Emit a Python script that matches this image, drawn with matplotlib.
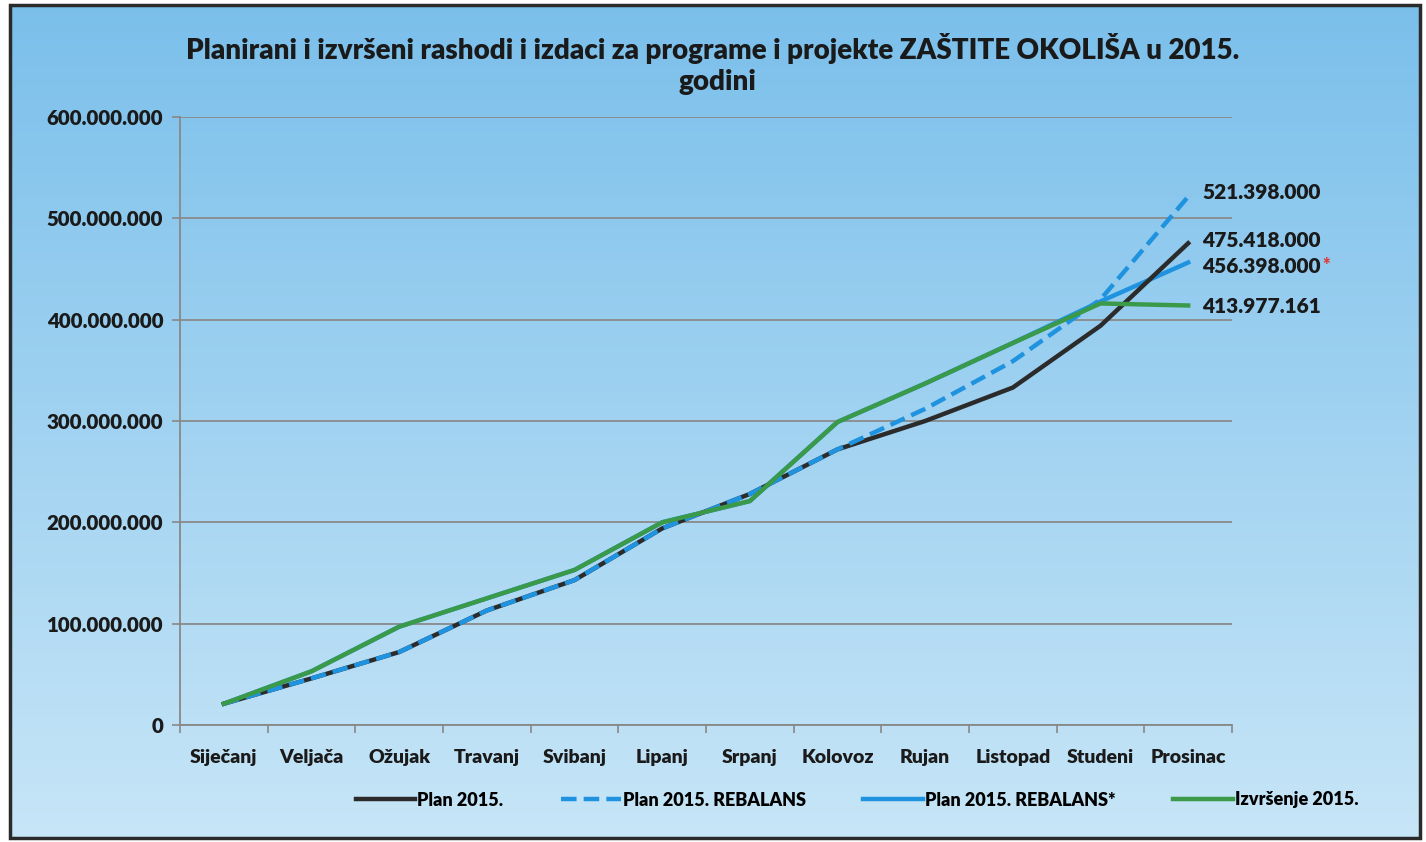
import matplotlib
matplotlib.use("Agg")
import matplotlib.pyplot as plt
import numpy as np
from matplotlib.patches import Rectangle
from matplotlib.ticker import FuncFormatter

# data (kune)
months = ['Siječanj', 'Veljača', 'Ožujak', 'Travanj', 'Svibanj', 'Lipanj',
          'Srpanj', 'Kolovoz', 'Rujan', 'Listopad', 'Studeni', 'Prosinac']
plan = [21e6, 46e6, 72e6, 113e6, 143e6, 194e6, 228e6, 272e6, 300e6, 333e6, 394e6, 475418000]
rebalans = [21e6, 46e6, 72e6, 113e6, 143e6, 194e6, 228e6, 272e6, 312e6, 359e6, 420e6, 521398000]
izvrsenje = [21e6, 53e6, 97e6, 125e6, 153e6, 200e6, 221e6, 299e6, 337e6, 377e6, 416e6, 413977161]
rebalans_star = [21e6, 53e6, 97e6, 125e6, 153e6, 200e6, 221e6, 299e6, 337e6, 377e6, 418e6, 456398000]
end_labels = ['475.418.000', '521.398.000', '456.398.000', '413.977.161']

WT = 'heavy'
plt.rcParams['font.family'] = ['Lato', 'DejaVu Sans']
plt.rcParams['font.weight'] = WT

W, H = 1426, 842
fig = plt.figure(figsize=(W / 100, H / 100), dpi=100)
fig.patch.set_facecolor('white')

# gradient background inside the frame
bg = fig.add_axes([0, 0, 1, 1], zorder=-10)
bg.set_xlim(0, W)
bg.set_ylim(H, 0)
bg.axis('off')
t = np.linspace(0, 1, 256).reshape(256, 1, 1)
top = np.array([0.48, 0.75, 0.92])
bot = np.array([0.78, 0.90, 0.97])
img = top + (bot - top) * t
bg.imshow(img, extent=[10, 1420, 838, 5], aspect='auto')
bg.add_patch(Rectangle((10, 5), 1410, 833, fill=False, edgecolor='#2a2a2a', linewidth=2.5))

ax = fig.add_axes([180 / W, 1 - 725 / H, (1232 - 180) / W, (725 - 117) / H])
ax.patch.set_alpha(0)
x = np.arange(len(months))

blue = '#1f93df'
ax.plot(x, rebalans_star, color=blue, lw=3.2, zorder=2, label='Plan 2015. REBALANS*')
ax.plot(x, plan, color='#2b2b2b', lw=3.2, zorder=3, label='Plan 2015.')
ax.plot(x, rebalans, color=blue, lw=3.2, ls=(0, (3.5, 1.6)), zorder=4, label='Plan 2015. REBALANS')
ax.plot(x, izvrsenje, color='#3a9a4a', lw=3.2, zorder=5, label='Izvršenje 2015.')

ax.set_xlim(-0.5, 11.5)
ax.set_ylim(0, 600e6)
ax.set_yticks(np.arange(0, 600e6 + 1, 100e6))
ax.yaxis.set_major_formatter(FuncFormatter(lambda v, p: f"{int(v):,}".replace(',', '.')))
ax.set_xticks(x)
ax.set_xticklabels(months, fontweight=WT)
ax.set_xticks(np.arange(-0.5, 12, 1), minor=True)
ax.tick_params(axis='x', which='major', length=0, pad=17, labelsize=14, labelcolor='#1a1a1a')
ax.tick_params(axis='x', which='minor', length=6, color='#888888', width=1.2)
ax.tick_params(axis='y', length=6, color='#888888', width=1.2, pad=6, labelsize=14.8, labelcolor='#1a1a1a')
for lab in ax.get_yticklabels():
    lab.set_fontweight(WT)
ax.grid(axis='y', color='#8a8a8a', lw=1.3)
for s in ['top', 'right']:
    ax.spines[s].set_visible(False)
for s in ['left', 'bottom']:
    ax.spines[s].set_color('#888888')
    ax.spines[s].set_linewidth(1.3)

# end value labels
kw = dict(textcoords='offset points', fontsize=15, fontweight=WT, color='#1a1a1a', va='center')
ax.annotate(end_labels[1], (11, rebalans[-1]), xytext=(10, 3), **kw)
ax.annotate(end_labels[0], (11, plan[-1]), xytext=(10, 2), **kw)
star_lab = ax.annotate(end_labels[2], (11, rebalans_star[-1]), xytext=(10, -3), **kw)
ax.annotate(end_labels[3], (11, izvrsenje[-1]), xytext=(10, -1), **kw)
ax.annotate('*', xy=(1, 0.55), xycoords=star_lab, xytext=(1, 0), textcoords='offset points',
            fontsize=13, fontweight=WT, color='#e03a3a', va='center', ha='left')

fig.text(0.5, 1 - 48 / H, 'Planirani i izvršeni rashodi i izdaci za programe i projekte ZAŠTITE OKOLIŠA u 2015.',
         ha='center', va='center', fontsize=20, fontweight=WT, color='#1a1a1a')
fig.text(0.503, 1 - 82 / H, 'godini', ha='center', va='center', fontsize=20, fontweight=WT, color='#1a1a1a')

handles, labels = ax.get_legend_handles_labels()
order = [1, 2, 0, 3]
fig.legend([handles[i] for i in order], [labels[i] for i in order], loc='center',
           bbox_to_anchor=(857 / W, 1 - 800 / H), ncol=4, frameon=False,
           prop={'size': 13, 'weight': WT},
           handlelength=3.3, handletextpad=0.1, columnspacing=3.2)

fig.savefig('out.png', dpi=100)
